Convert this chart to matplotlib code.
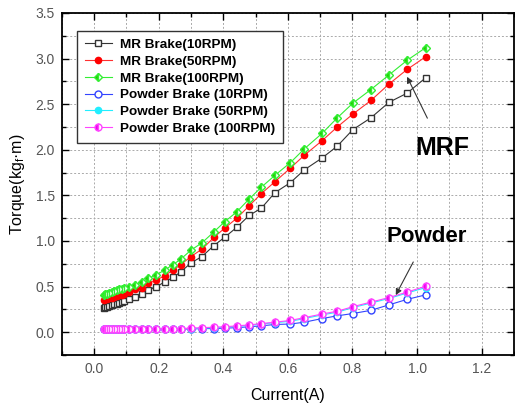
import matplotlib.pyplot as plt
from matplotlib.ticker import MultipleLocator

plt.rcParams['font.family'] = ['Liberation Sans', 'DejaVu Sans']

# applied current (A)
current = [0.030, 0.035, 0.040, 0.047, 0.055, 0.062, 0.070, 0.077, 0.085, 0.093,
           0.108, 0.126, 0.147, 0.167, 0.193, 0.218, 0.244, 0.268, 0.300, 0.334,
           0.371, 0.404, 0.442, 0.480, 0.518, 0.560, 0.608, 0.651, 0.706, 0.753,
           0.801, 0.857, 0.913, 0.969, 1.027]

# torque (kgf.m)
mr_10 = [0.27, 0.28, 0.28, 0.29, 0.30, 0.31, 0.31, 0.32, 0.33, 0.34,
         0.36, 0.39, 0.42, 0.46, 0.50, 0.55, 0.60, 0.66, 0.76, 0.83,
         0.95, 1.04, 1.15, 1.28, 1.36, 1.53, 1.64, 1.78, 1.91, 2.04,
         2.22, 2.35, 2.52, 2.62, 2.79]
mr_50 = [0.35, 0.36, 0.36, 0.37, 0.38, 0.39, 0.40, 0.41, 0.41, 0.42,
         0.44, 0.47, 0.49, 0.535, 0.57, 0.62, 0.68, 0.74, 0.83, 0.91,
         1.04, 1.14, 1.25, 1.385, 1.52, 1.65, 1.80, 1.94, 2.10, 2.25,
         2.39, 2.54, 2.72, 2.88, 3.02]
mr_100 = [0.41, 0.42, 0.42, 0.43, 0.44, 0.45, 0.46, 0.47, 0.47, 0.48,
          0.50, 0.52, 0.55, 0.59, 0.63, 0.68, 0.74, 0.80, 0.90, 0.98,
          1.10, 1.21, 1.32, 1.46, 1.59, 1.72, 1.86, 2.01, 2.18, 2.35,
          2.51, 2.66, 2.82, 2.98, 3.12]
pw_10 = [0.03, 0.03, 0.03, 0.03, 0.03, 0.03, 0.03, 0.03, 0.03, 0.03,
         0.03, 0.03, 0.03, 0.03, 0.03, 0.03, 0.03, 0.035, 0.035, 0.04,
         0.04, 0.045, 0.05, 0.06, 0.07, 0.085, 0.09, 0.11, 0.15, 0.18,
         0.205, 0.24, 0.30, 0.36, 0.41]
pw_50 = [0.03, 0.03, 0.03, 0.03, 0.03, 0.03, 0.03, 0.03, 0.03, 0.03,
         0.03, 0.03, 0.03, 0.035, 0.035, 0.035, 0.04, 0.04, 0.04, 0.045,
         0.05, 0.055, 0.065, 0.075, 0.09, 0.105, 0.12, 0.15, 0.19, 0.22,
         0.27, 0.32, 0.37, 0.43, 0.49]
pw_100 = [0.03, 0.03, 0.03, 0.03, 0.03, 0.03, 0.03, 0.03, 0.03, 0.03,
          0.03, 0.03, 0.035, 0.035, 0.035, 0.04, 0.04, 0.04, 0.045, 0.05,
          0.055, 0.06, 0.07, 0.08, 0.095, 0.11, 0.13, 0.16, 0.20, 0.23,
          0.28, 0.33, 0.38, 0.44, 0.505]

series = [
    ('MR Brake(10RPM)', mr_10, dict(color='#333333', marker='s', mfc='white', mec='#333333', ms=4.2)),
    ('MR Brake(50RPM)', mr_50, dict(color='#ff3030', marker='o', mfc='red', mec='red', ms=4.5)),
    ('MR Brake(100RPM)', mr_100, dict(color='#33ee33', marker='D', fillstyle='left', mfc='#22cc00',
                                      mfcalt='white', mec='#33ee33', ms=4.5)),
    ('Powder Brake (10RPM)', pw_10, dict(color='#3344ff', marker='o', mfc='white', mec='#3344ff', ms=5)),
    ('Powder Brake (50RPM)', pw_50, dict(color='#22eeff', marker='o', mfc='#22eeff', mec='#22eeff', ms=4.5)),
    ('Powder Brake (100RPM)', pw_100, dict(color='#ff44ff', marker='o', fillstyle='left', mfc='#ee00ee',
                                           mfcalt='white', mec='#ff44ff', ms=5)),
]

fig = plt.figure(figsize=(5.15, 4.03), dpi=100)
ax = fig.add_axes([0.120, 0.119, 0.878, 0.849])

for label, vals, style in series:
    ax.plot(current, vals, lw=0.8, label=label, **style)

ax.set_xlim(-0.1, 1.3)
ax.set_ylim(-0.25, 3.5)
ax.xaxis.set_major_locator(MultipleLocator(0.2))
ax.xaxis.set_minor_locator(MultipleLocator(0.1))
ax.yaxis.set_major_locator(MultipleLocator(0.5))
ax.yaxis.set_minor_locator(MultipleLocator(0.25))
ax.grid(True, which='both', color='#aaaaaa', ls=(0, (2, 2)), lw=0.7)
ax.tick_params(which='both', direction='in', top=True, right=True, labelcolor='#555555')
ax.tick_params(which='major', length=5, width=1, labelsize=10, pad=5)
ax.tick_params(which='minor', length=3, width=1)
for s in ax.spines.values():
    s.set_linewidth(1.3)

ax.set_xlabel('Current(A)', fontsize=11.5, labelpad=9)
ax.set_ylabel('Torque(kg$_\\mathregular{f}$·m)', fontsize=11.5, labelpad=6)

leg = ax.legend(loc='upper left', bbox_to_anchor=(0.018, 0.968), fancybox=False,
                edgecolor='#333333', framealpha=1, prop=dict(size=9.7, weight='bold'),
                handlelength=2.0, labelspacing=0.32, borderpad=0.6, handletextpad=0.6)
leg.get_frame().set_linewidth(1.0)

arrow = dict(arrowstyle='-|>', mutation_scale=9, color='#333333', lw=0.8, shrinkB=0)
ax.annotate('MRF', xy=(0.969, 2.80), xytext=(1.077, 2.02), fontsize=18, fontweight='bold',
            ha='center', va='center', arrowprops=dict(arrow, shrinkA=12))
ax.annotate('Powder', xy=(0.934, 0.407), xytext=(1.03, 1.05), fontsize=16, fontweight='bold',
            ha='center', va='center', arrowprops=dict(arrow, shrinkA=10))

fig.savefig('out.png', dpi=100)
